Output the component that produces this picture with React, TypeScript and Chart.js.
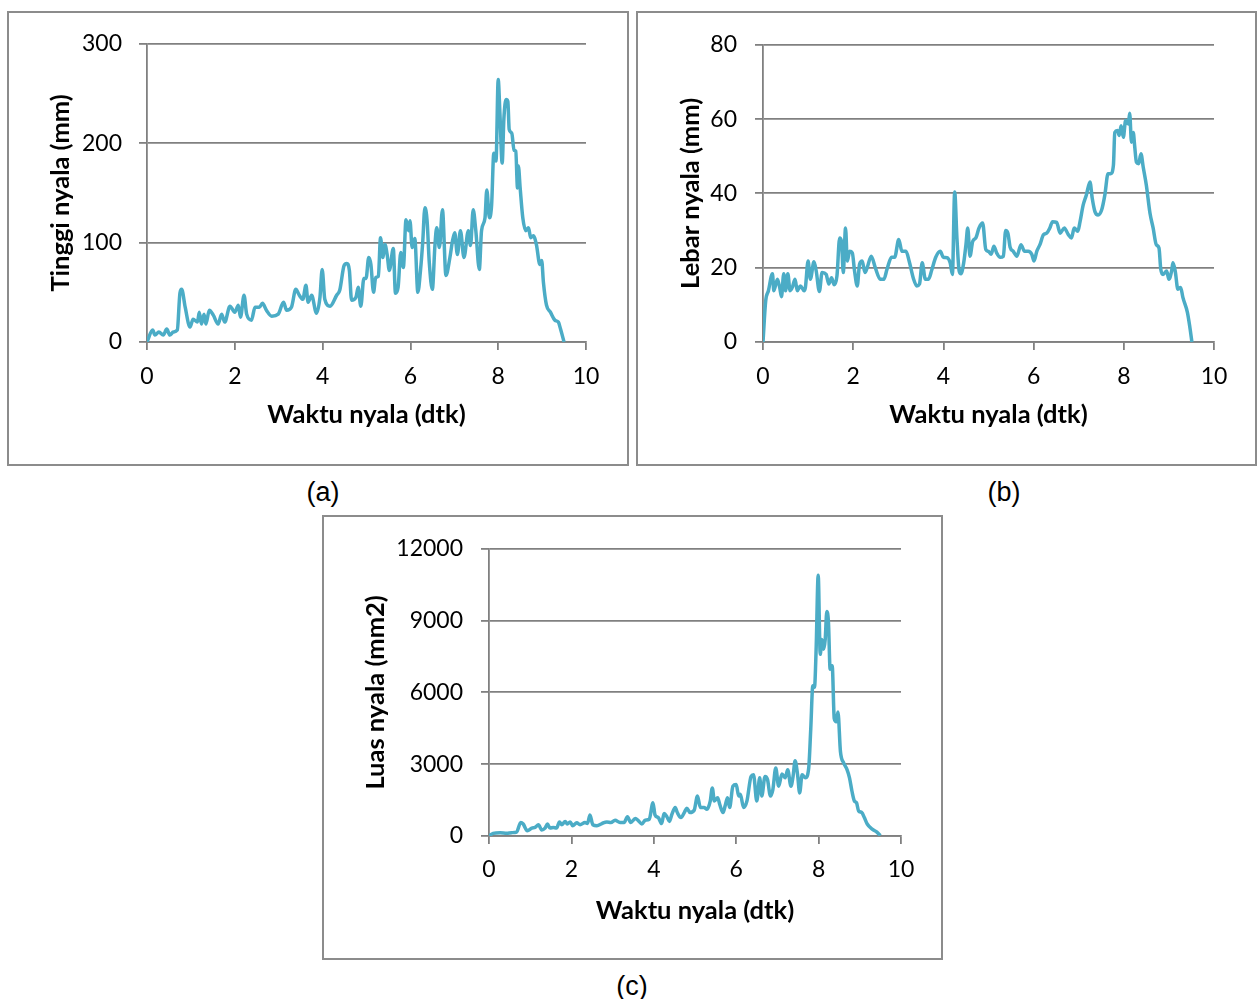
import React, { useEffect, useRef } from "react";
import { Chart, registerables } from "chart.js";

Chart.register(...registerables);

// ---------- DATA ----------
const xTicksLabel = "Waktu nyala (dtk)";

const timeA = [
  0, 0.13, 0.18, 0.27, 0.37, 0.45, 0.52, 0.6, 0.69, 0.75,
  0.79, 0.87, 0.98, 1.05, 1.15, 1.19, 1.24, 1.3, 1.34, 1.42,
  1.51, 1.62, 1.7, 1.77, 1.89, 2.0, 2.08, 2.13, 2.21, 2.27,
  2.38, 2.46, 2.56, 2.63, 2.72, 2.84, 2.99, 3.11, 3.18, 3.29,
  3.39, 3.47, 3.55, 3.62, 3.67, 3.75, 3.86, 3.94, 3.99, 4.05,
  4.17, 4.32, 4.39, 4.49, 4.55, 4.61, 4.66, 4.76, 4.81, 4.87,
  4.94, 4.99, 5.05, 5.1, 5.16, 5.21, 5.27, 5.32, 5.37, 5.42,
  5.47, 5.52, 5.61, 5.66, 5.72, 5.78, 5.84, 5.9, 5.96, 5.99,
  6.04, 6.1, 6.17, 6.23, 6.28, 6.33, 6.38, 6.43, 6.5, 6.56,
  6.6, 6.66, 6.73, 6.81, 6.9, 6.96, 7.01, 7.07, 7.14, 7.22,
  7.32, 7.37, 7.43, 7.49, 7.57, 7.62, 7.7, 7.74, 7.8, 7.85,
  7.9, 7.95, 8.0, 8.04, 8.09, 8.13, 8.18, 8.22, 8.25, 8.31,
  8.36, 8.4, 8.44, 8.46, 8.5, 8.56, 8.63, 8.69, 8.74, 8.8,
  8.87, 8.95, 8.99, 9.03, 9.1, 9.19, 9.29, 9.37, 9.42, 9.5,
];
const tinggiA = [
  0, 12, 7, 10, 7, 13, 7, 10, 12, 49,
  53, 35, 15, 23, 20, 30, 18, 28, 18, 32,
  27, 18, 28, 20, 36, 30, 37, 25, 47, 28,
  22, 35, 35, 39, 32, 26, 28, 40, 32, 35,
  53, 47, 43, 57, 40, 47, 29, 45, 73, 43,
  36, 47, 52, 77, 79, 72, 42, 45, 55, 36,
  64, 64, 85, 78, 50, 65, 66, 105, 85, 98,
  88, 72, 94, 49, 55, 90, 75, 123, 112, 122,
  95, 104, 50, 72, 100, 135, 122, 80, 53, 98,
  115, 95, 133, 67, 85, 102, 110, 88, 112, 85,
  112, 97, 133, 112, 73, 112, 125, 153, 125, 138,
  190, 182, 264, 229, 180, 225, 244, 242, 214, 210,
  193, 192, 155, 177, 155, 125, 112, 115, 105, 107,
  98, 78, 82, 60, 37, 30, 22, 20, 13, 0,
];

const timeB = [
  0, 0.06, 0.12, 0.21, 0.24, 0.32, 0.37, 0.41, 0.46, 0.5,
  0.55, 0.6, 0.65, 0.71, 0.76, 0.83, 0.91, 0.94, 1.0, 1.05,
  1.13, 1.18, 1.25, 1.31, 1.4, 1.46, 1.52, 1.58, 1.64, 1.7,
  1.74, 1.78, 1.83, 1.87, 1.92, 1.98, 2.03, 2.09, 2.14, 2.2,
  2.26, 2.31, 2.4, 2.49, 2.6, 2.68, 2.75, 2.85, 2.92, 3.01,
  3.08, 3.17, 3.24, 3.34, 3.41, 3.47, 3.53, 3.6, 3.67, 3.74,
  3.83, 3.93, 4.0, 4.08, 4.15, 4.2, 4.25, 4.3, 4.35, 4.39,
  4.45, 4.5, 4.54, 4.59, 4.65, 4.72, 4.79, 4.87, 4.94, 5.0,
  5.06, 5.12, 5.18, 5.26, 5.33, 5.38, 5.43, 5.48, 5.55, 5.63,
  5.72, 5.8, 5.88, 5.96, 6.01, 6.07, 6.14, 6.22, 6.29, 6.36,
  6.42, 6.51, 6.59, 6.68, 6.77, 6.84, 6.9, 6.98, 7.03, 7.1,
  7.17, 7.25, 7.3, 7.36, 7.43, 7.51, 7.58, 7.65, 7.71, 7.77,
  7.8, 7.86, 7.9, 7.94, 7.99, 8.04, 8.1, 8.13, 8.17, 8.21,
  8.24, 8.28, 8.33, 8.38, 8.43, 8.5, 8.58, 8.65, 8.72, 8.78,
  8.82, 8.87, 8.95, 9.0, 9.06, 9.09, 9.14, 9.2, 9.26, 9.31,
  9.41, 9.46, 9.51,
];
const lebarB = [
  0, 11.1, 13.8, 18.4, 13.8, 16.9, 14.7, 12.2, 18.4, 13.8,
  18.4, 13.8, 14.7, 16.9, 13.8, 15.1, 13.8, 14.7, 21.8, 16.9,
  21.6, 19.1, 13.6, 18.7, 18.2, 15.6, 17.3, 15.4, 17.8, 28,
  27.1, 18.7, 30.7, 21.8, 24.4, 24, 19.1, 15.1, 20.9, 21.8,
  18.7, 20, 23.1, 20, 16.9, 16.9, 19.6, 22.8, 22.8, 27.6,
  24.4, 24.4, 21.8, 16.9, 15.1, 15.6, 21.3, 16.9, 16.9, 19.3,
  22.8, 24.4, 22.8, 22.7, 21.3, 18.2, 40.4, 28, 19.1, 18.4,
  21.3, 26.2, 30.7, 23.1, 27.1, 28, 30.7, 32, 24.9, 24.4,
  23.6, 25.8, 24, 22.8, 23.1, 30, 29.3, 25.5, 24.4, 23.1,
  26.2, 24.4, 24.4, 23.6, 21.8, 24.4, 26.2, 28.9, 29.3, 30.7,
  32.4, 32.2, 29.3, 30.7, 28.9, 28, 30.7, 29.8, 32.4, 36.9,
  39.6, 43.1, 38.7, 35.1, 34.2, 35.6, 39.6, 45.3, 45.3, 47.6,
  56.4, 56.9, 55.6, 58.2, 55.1, 59.6, 58.7, 61.6, 53.8, 56.4,
  52.9, 48.4, 48, 50.7, 47.1, 42.2, 34.7, 30.7, 26.2, 25.3,
  19.6, 18.2, 19.1, 16.9, 19.1, 21.3, 19.1, 14.2, 14.7, 12,
  8, 4.4, 0,
];

const timeC = [
  0, 0.1, 0.27, 0.43, 0.55, 0.67, 0.77, 0.83, 0.93, 1.04,
  1.12, 1.2, 1.28, 1.36, 1.42, 1.48, 1.56, 1.64, 1.71, 1.77,
  1.85, 1.9, 1.97, 2.03, 2.13, 2.21, 2.33, 2.39, 2.45, 2.52,
  2.62, 2.74, 2.86, 2.96, 3.06, 3.18, 3.28, 3.36, 3.44, 3.55,
  3.63, 3.71, 3.79, 3.89, 3.98, 4.03, 4.11, 4.19, 4.25, 4.32,
  4.38, 4.44, 4.52, 4.57, 4.66, 4.74, 4.8, 4.88, 4.98, 5.06,
  5.13, 5.22, 5.29, 5.37, 5.42, 5.47, 5.55, 5.6, 5.68, 5.74,
  5.79, 5.84, 5.92, 6.0, 6.06, 6.1, 6.18, 6.26, 6.36, 6.42,
  6.5, 6.57, 6.62, 6.7, 6.76, 6.83, 6.89, 6.96, 7.03, 7.11,
  7.19, 7.25, 7.33, 7.38, 7.43, 7.49, 7.54, 7.6, 7.68, 7.76,
  7.81, 7.86, 7.9, 7.94, 7.99, 8.04, 8.08, 8.12, 8.16, 8.2,
  8.24, 8.28, 8.33, 8.38, 8.43, 8.47, 8.53, 8.61, 8.69, 8.75,
  8.81, 8.87, 8.92, 8.97, 9.05, 9.11, 9.18, 9.3, 9.4, 9.5,
];
const luasC = [
  0, 110, 140, 110, 140, 165, 565, 500, 220, 330,
  360, 470, 250, 330, 500, 330, 360, 330, 590, 470,
  610, 500, 590, 430, 550, 470, 565, 520, 880, 470,
  430, 520, 590, 565, 660, 565, 565, 800, 565, 730,
  630, 500, 660, 700, 1390, 880, 770, 520, 940, 800,
  610, 910, 1190, 980, 770, 980, 1160, 980, 1075, 1670,
  1190, 1190, 1120, 1460, 2010, 1460, 1600, 1320, 980, 1320,
  1600, 1190, 2080, 2150, 1670, 1740, 1190, 1460, 2490, 2560,
  1460, 2430, 1670, 2490, 2360, 1670, 1940, 2840, 2080, 2590,
  2430, 2770, 2080, 2490, 3140, 2560, 1800, 2560, 2430, 2840,
  4490, 6280, 6210, 7800, 10900, 7590, 8210, 7800, 8210, 9380,
  8900, 6970, 7110, 4900, 4770, 5180, 3530, 3050, 2770, 2430,
  1870, 1460, 1390, 1050, 980, 770, 500, 290, 180, 15,
];

// ---------- STYLE ----------
const LINE = "#4BACC6";
const GRID = "#808080";
const TICK_FONT = { family: "Lato", size: 23 };
const TITLE_FONT = { family: "Lato", size: 25.5, weight: "bold" as const };

type Layout = {
  left: number; top: number; width: number; height: number;
  yAxisWidth: number; padTop: number; padRight: number; xAxisHeight: number;
  yLabelPad: number; yTitlePad: number; xLabelPad: number; xTitlePad: number;
};

function Panel(props: {
  times: number[]; values: number[]; yMax: number; yStep: number;
  yTitle: string; layout: Layout;
}) {
  const ref = useRef<HTMLCanvasElement | null>(null);
  const { times, values, yMax, yStep, yTitle, layout: L } = props;

  useEffect(() => {
    if (!ref.current) return;
    const chart = new Chart(ref.current, {
      type: "line",
      data: {
        datasets: [
          {
            data: times.map((t, i) => ({ x: t, y: values[i] })),
            borderColor: LINE,
            borderWidth: 3.5,
            pointRadius: 0,
            fill: false,
            cubicInterpolationMode: "monotone",
          },
        ],
      },
      options: {
        animation: false,
        responsive: false,
        maintainAspectRatio: false,
        layout: { padding: { left: 0, top: L.padTop, right: L.padRight, bottom: 0 } },
        plugins: { legend: { display: false }, tooltip: { enabled: false } },
        scales: {
          x: {
            type: "linear",
            min: 0,
            max: 10,
            ticks: { stepSize: 2, font: TICK_FONT, color: "#000", padding: L.xLabelPad, maxRotation: 0 },
            grid: { drawOnChartArea: false, drawTicks: true, tickLength: 8, color: GRID, lineWidth: 1.8 },
            border: { color: GRID, width: 1.8 },
            title: { display: true, text: xTicksLabel, font: TITLE_FONT, color: "#000", padding: { top: 0, bottom: L.xTitlePad } },
            afterFit: (s: any) => { s.height = L.xAxisHeight; },
          },
          y: {
            type: "linear",
            min: 0,
            max: yMax,
            ticks: { stepSize: yStep, font: TICK_FONT, color: "#000", padding: L.yLabelPad, callback: (v: any) => String(v) },
            grid: { drawTicks: true, tickLength: 8, color: GRID, lineWidth: 1.8 },
            border: { color: GRID, width: 1.8 },
            title: { display: true, text: yTitle, font: TITLE_FONT, color: "#000", padding: { top: L.yTitlePad, bottom: 0 } },
            afterFit: (s: any) => { s.width = L.yAxisWidth; },
          },
        },
      },
    } as any);
    let alive = true;
    Promise.all([
      document.fonts.load("23px Lato"),
      document.fonts.load("bold 25.5px Lato"),
    ]).then(() => { if (alive) chart.update(); }).catch(() => {});
    return () => { alive = false; chart.destroy(); };
  }, []);

  return (
    <div
      style={{
        position: "absolute",
        left: L.left - 2,
        top: L.top - 2,
        width: L.width,
        height: L.height,
        border: "2px solid #8c8c8c",
        background: "#fff",
      }}
    >
      <canvas ref={ref} width={L.width} height={L.height} style={{ display: "block" }} />
    </div>
  );
}

const capStyle = (cx: number, cy: number): React.CSSProperties => ({
  position: "absolute",
  left: cx - 60,
  width: 120,
  top: cy - 16,
  height: 32,
  lineHeight: "32px",
  textAlign: "center",
  fontFamily: "'Liberation Sans', Arial, sans-serif",
  fontSize: 27,
  color: "#000",
});

export default function App() {
  const layoutA: Layout = {
    left: 9, top: 13, width: 618, height: 451,
    yAxisWidth: 138, padTop: 28, padRight: 41, xAxisHeight: 122,
    yLabelPad: 17, yTitlePad: 36, xLabelPad: 13, xTitlePad: 34,
  };
  const layoutB: Layout = {
    left: 638, top: 13, width: 617, height: 451,
    yAxisWidth: 125, padTop: 28, padRight: 41, xAxisHeight: 122,
    yLabelPad: 18, yTitlePad: 37, xLabelPad: 13, xTitlePad: 34,
  };
  const layoutC: Layout = {
    left: 324, top: 517, width: 617, height: 441,
    yAxisWidth: 165, padTop: 27, padRight: 40, xAxisHeight: 122,
    yLabelPad: 18, yTitlePad: 36, xLabelPad: 12, xTitlePad: 32,
  };
  return (
    <div style={{ position: "absolute", left: 0, top: 0, width: 1258, height: 999, background: "#fff" }}>
      <Panel times={timeA} values={tinggiA} yMax={300} yStep={100} yTitle="Tinggi nyala (mm)" layout={layoutA} />
      <Panel times={timeB} values={lebarB} yMax={80} yStep={20} yTitle="Lebar nyala (mm)" layout={layoutB} />
      <Panel times={timeC} values={luasC} yMax={12000} yStep={3000} yTitle="Luas nyala (mm2)" layout={layoutC} />
      <div style={capStyle(323, 492)}>(a)</div>
      <div style={capStyle(1004, 492)}>(b)</div>
      <div style={capStyle(632, 986)}>(c)</div>
    </div>
  );
}
